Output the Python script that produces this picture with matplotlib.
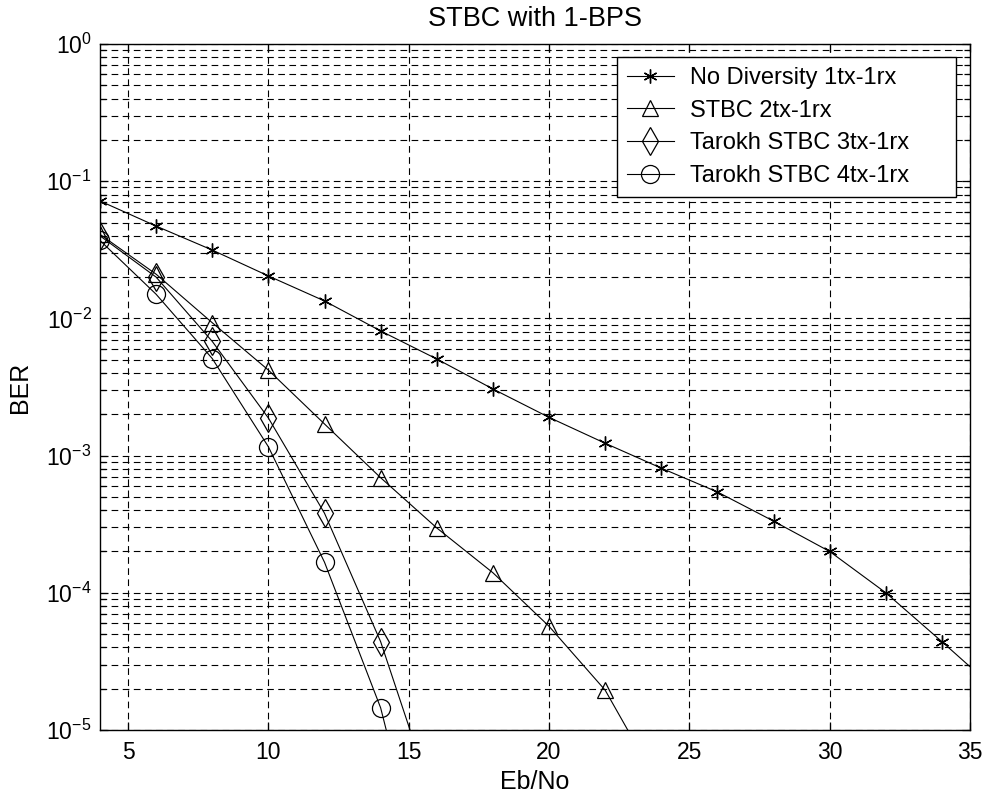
import numpy as np
import matplotlib
matplotlib.use("Agg")
import matplotlib.pyplot as plt
from matplotlib.ticker import LogLocator, NullFormatter

plt.rcParams['font.family'] = ['Liberation Sans', 'DejaVu Sans']

# BER curves (Eb/No in dB)
snr_1tx = [4, 6, 8, 10, 12, 14, 16, 18, 20, 22, 24, 26, 28, 30, 32, 34, 36]
ber_1tx = [0.0718, 0.0471, 0.0315, 0.0204, 0.0134, 0.0081, 0.00506, 0.00306,
           0.0019, 0.00123, 0.00081, 0.000543, 0.000333, 0.0002, 1.0e-4, 4.4e-5, 1.9e-5]

snr_2tx = [4, 6, 8, 10, 12, 14, 16, 18, 20, 22, 24]
ber_2tx = [0.041, 0.021, 0.0093, 0.0042, 0.0017, 0.00069, 0.000297, 0.00014,
           5.7e-5, 1.95e-5, 3.7e-6]

snr_3tx = [4, 6, 8, 10, 12, 14, 16]
ber_3tx = [0.040, 0.020, 0.0068, 0.00188, 0.00038, 4.4e-5, 2.6e-6]

snr_4tx = [4, 6, 8, 10, 12, 14, 16]
ber_4tx = [0.037, 0.015, 0.0051, 0.00116, 0.000167, 1.45e-5, 3.5e-7]

labels = ['No Diversity 1tx-1rx', 'STBC 2tx-1rx',
          'Tarokh STBC 3tx-1rx', 'Tarokh STBC 4tx-1rx']

fig = plt.figure(figsize=(9.86, 8.05), dpi=100)
ax = fig.add_axes([0.1014, 0.0932, 0.8824, 0.8521])

lw = 0.8
ax.semilogy(snr_1tx, ber_1tx, color='k', lw=lw, marker=(6, 2, 0), ms=10,
            mew=1.0, label=labels[0])
ax.semilogy(snr_2tx, ber_2tx, color='k', lw=lw, marker='^', ms=11.5, mfc='none',
            mew=0.9, label=labels[1])
ax.semilogy(snr_3tx, ber_3tx, color='k', lw=lw, marker='d', ms=14, mfc='none',
            mew=0.9, label=labels[2])
ax.semilogy(snr_4tx, ber_4tx, color='k', lw=lw, marker='o', ms=13, mfc='none',
            mew=0.9, label=labels[3])

ax.set_xlim(4, 35)
ax.set_ylim(1e-5, 1)
ax.set_xticks([5, 10, 15, 20, 25, 30, 35])
ax.yaxis.set_major_locator(LogLocator(base=10, numticks=10))
ax.yaxis.set_minor_locator(LogLocator(base=10, subs=np.arange(2, 10), numticks=20))
ax.yaxis.set_minor_formatter(NullFormatter())

ax.grid(True, which='major', axis='both', color='k', ls=(0, (6, 4)), lw=0.8)
ax.grid(True, which='minor', axis='y', color='k', ls=(0, (6, 4)), lw=0.8)

ax.tick_params(which='both', direction='in', top=True, right=True,
               labelsize=16.5, colors='k')
ax.tick_params(which='major', length=6, width=0.9)
ax.tick_params(which='minor', length=4, width=0.9)
ax.tick_params(axis='x', pad=8)
ax.tick_params(axis='y', pad=6)
for s in ax.spines.values():
    s.set_linewidth(1.0)

ax.set_xlabel('Eb/No', fontsize=18, labelpad=4)
ax.set_ylabel('BER', fontsize=18, labelpad=10)
ax.set_title('STBC with 1-BPS', fontsize=19.5, pad=13)

leg = ax.legend(loc='upper left', bbox_to_anchor=(0.594, 0.0, 0.390, 0.981),
                mode='expand', borderaxespad=0, fontsize=17, frameon=True,
                fancybox=False, edgecolor='k', framealpha=1,
                handlelength=2.0, handletextpad=0.68, labelspacing=0.45,
                borderpad=0.42)
leg.get_frame().set_linewidth(1.0)

fig.savefig('out.png', dpi=100)
